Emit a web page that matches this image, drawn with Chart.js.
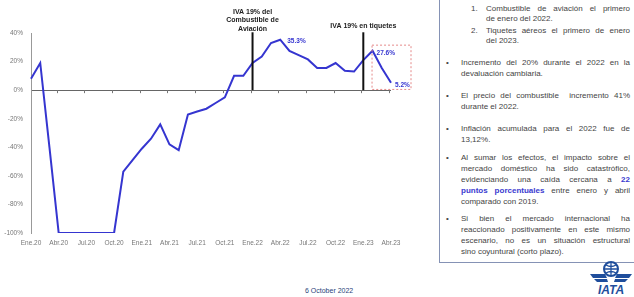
<!DOCTYPE html>
<html>
<head>
<meta charset="utf-8">
<script src="https://cdn.jsdelivr.net/npm/chart.js@4/dist/chart.umd.min.js"></script>
<style>
  body { margin: 0; width: 634px; height: 297px; overflow: hidden; background: #fff; font-family: "Liberation Sans", Arial, sans-serif; position: relative; }
  #chartWrap { position: absolute; left: 0; top: 0; width: 430px; height: 260px; }
  .box { position: absolute; left: 439px; top: -12px; width: 210px; height: 273px; border: 1px solid #8592b5; }
  .ln { position: absolute; font-size: 8px; line-height: 11px; height: 11px; color: #444; white-space: nowrap; overflow: visible; }
  .j { text-align: justify; text-align-last: justify; }
  .blue { color: #3a3ad0; font-weight: bold; }
  .foot { position: absolute; left: 305px; top: 287px; font-size: 7px; color: #2a3f7a; }
</style>
</head>
<body>
<div id="chartWrap"><canvas id="dataChart" width="430" height="260"></canvas></div>
<div class="box"></div>
<div id="notes"></div>
<div class="foot">6 October 2022</div>
<svg style="position:absolute;left:588px;top:261px" width="46" height="36" viewBox="0 0 46 36">
  <circle cx="23" cy="8" r="7" fill="#fff" stroke="#1f4e9c" stroke-width="2"/>
  <path d="M16 8 H30 M23 1 V15 M18 4 Q23 7 28 4 M18 12 Q23 9 28 12" stroke="#1f4e9c" stroke-width="1.3" fill="none"/>
  <polygon points="2,13 17,13 19,17 5,17" fill="#1f4e9c"/>
  <polygon points="6,18 19,18 20,21 9,21" fill="#1f4e9c"/>
  <polygon points="44,13 29,13 27,17 41,17" fill="#1f4e9c"/>
  <polygon points="40,18 27,18 26,21 37,21" fill="#1f4e9c"/>
  <text x="23" y="33" text-anchor="middle" font-family="Liberation Sans, Arial" font-weight="bold" font-style="italic" font-size="12" fill="#1f4e9c">IATA</text>
</svg>
<script>
// monthly categories Ene.20 .. Abr.23
const months = ['Ene.20','Feb.20','Mar.20','Abr.20','May.20','Jun.20','Jul.20','Ago.20','Sep.20','Oct.20','Nov.20','Dic.20',
  'Ene.21','Feb.21','Mar.21','Abr.21','May.21','Jun.21','Jul.21','Ago.21','Sep.21','Oct.21','Nov.21','Dic.21',
  'Ene.22','Feb.22','Mar.22','Abr.22','May.22','Jun.22','Jul.22','Ago.22','Sep.22','Oct.22','Nov.22','Dic.22',
  'Ene.23','Feb.23','Mar.23','Abr.23'];

// variation vs 2019 (%)
const variation = [8, 19, -40, -100, -100, -100, -100, -100, -100, -100, -57, -49,
  -41, -34, -24, -38, -42, -17, -15, -13, -9, -5, 10, 10,
  19, 23.5, 33, 35.3, 27.5, 24.5, 21.5, 15.5, 15.5, 19, 13.5, 13,
  21, 27.6, 15.5, 5.2];

const tickLabels = ['Ene.20','Abr.20','Jul.20','Oct.20','Ene.21','Abr.21','Jul.21','Oct.21','Ene.22','Abr.22','Jul.22','Oct.22','Ene.23','Abr.23'];
const yTicks = [40, 20, 0, -20, -40, -60, -80, -100];

// vertical markers
const markerIdx = [24, 36];
const markerText = [['IVA 19% del', 'Combustible de', 'Aviación'], ['IVA 19% en tiquetes']];
// highlighted values
const labelIdx = [27, 37, 39];
const labelText = ['35.3%', '27.6%', '5.2%'];

const blue = '#3535d0';

const annotations = {
  id: 'annotations',
  afterDatasetsDraw(chart) {
    const ctx = chart.ctx;
    const x = chart.scales.x, y = chart.scales.y;
    const y0 = y.getPixelForValue(0);
    ctx.save();

    // small ticks on the zero line
    ctx.strokeStyle = '#777';
    ctx.lineWidth = 1;
    for (let i = 3; i < months.length; i += 3) {
      const px = Math.round(x.getPixelForValue(i) - 2) + 0.5;
      ctx.beginPath();
      ctx.moveTo(px, y0);
      ctx.lineTo(px, y0 + 3);
      ctx.stroke();
    }

    // vertical markers
    ctx.strokeStyle = '#111';
    ctx.lineWidth = 2;
    markerIdx.forEach(idx => {
      const px = x.getPixelForValue(idx);
      ctx.beginPath();
      ctx.moveTo(px, y.getPixelForValue(40.5));
      ctx.lineTo(px, y0);
      ctx.stroke();
    });
    ctx.fillStyle = '#222';
    ctx.font = 'bold 7px "Liberation Sans", Arial, sans-serif';
    ctx.textAlign = 'center';
    ctx.textBaseline = 'middle';
    const px0 = x.getPixelForValue(markerIdx[0]);
    markerText[0].forEach((t, j) => ctx.fillText(t, px0, 12 + j * 8.5));
    ctx.fillText(markerText[1][0], x.getPixelForValue(markerIdx[1]), 26);

    // dashed highlight box
    ctx.strokeStyle = '#e58a8a';
    ctx.lineWidth = 1;
    ctx.setLineDash([2, 2]);
    const bx1 = x.getPixelForValue(37) - 0.5;
    const bx2 = x.getPixelForValue(39) + 20;
    const by1 = y.getPixelForValue(31.5);
    const by2 = y.getPixelForValue(0.5);
    ctx.strokeRect(bx1, by1, bx2 - bx1, by2 - by1);
    ctx.setLineDash([]);

    // value labels
    ctx.fillStyle = blue;
    ctx.font = 'bold 6.5px "Liberation Sans", Arial, sans-serif';
    ctx.textAlign = 'left';
    labelIdx.forEach((idx, k) => {
      const lx = x.getPixelForValue(idx) + (k === 0 ? 7 : 4);
      const ly = y.getPixelForValue(variation[idx]) + (k === 0 ? 1 : 2);
      ctx.fillText(labelText[k], lx, ly);
    });
    ctx.restore();
  }
};

const ctx = document.getElementById('dataChart').getContext('2d');
const chart = new Chart(ctx, {
  type: 'line',
  data: {
    labels: months,
    datasets: [{
      data: variation,
      borderColor: blue,
      borderWidth: 2,
      pointRadius: 0,
      tension: 0,
      fill: false
    }]
  },
  options: {
    responsive: false,
    animation: false,
    devicePixelRatio: 1,
    layout: { padding: { top: 33, right: 39, bottom: 7, left: 0 } },
    plugins: { legend: { display: false }, tooltip: { enabled: false } },
    scales: {
      x: {
        type: 'category',
        offset: false,
        grid: { display: false, drawTicks: false },
        border: { display: false },
        ticks: {
          autoSkip: false,
          maxRotation: 0,
          padding: 6,
          color: '#777',
          font: { size: 6.5, family: '"Liberation Sans", Arial, sans-serif' },
          callback: (v, i) => (i % 3 === 0 ? tickLabels[i / 3] : '')
        },
        afterFit: scale => { scale.height = 20; }
      },
      y: {
        min: -100,
        max: 40,
        afterBuildTicks: scale => { scale.ticks = yTicks.map(v => ({ value: v })); },
        grid: {
          drawTicks: false,
          color: c => (c.tick && c.tick.value === 0 ? '#666' : 'rgba(0,0,0,0)'),
          lineWidth: 1
        },
        border: { display: true, color: '#999', width: 1 },
        ticks: {
          padding: 8,
          color: '#777',
          font: { size: 6.5, family: '"Liberation Sans", Arial, sans-serif' },
          callback: v => v + '%'
        },
        afterFit: scale => { scale.width = 31; }
      }
    }
  },
  plugins: [annotations]
});

// side notes
const noteLines = [
  // [top, left, width, justify, html]
  [2.5, 486, 144, true, 'Combustible de aviación el primero'],
  [12.5, 486, 144, false, 'de enero del 2022.'],
  [24.5, 486, 144, true, 'Tiquetes aéreos el primero de enero'],
  [34.5, 486, 144, false, 'del 2023.'],
  [56.5, 461, 169, true, 'Incremento del 20% durante el 2022 en la'],
  [67.5, 461, 169, false, 'devaluación cambiaria.'],
  [89.5, 461, 169, true, 'El precio del combustible&nbsp; incremento 41%'],
  [100.5, 461, 169, false, 'durante el 2022.'],
  [122.5, 461, 169, true, 'Inflación acumulada para el 2022 fue de'],
  [133.5, 461, 169, false, '13,12%.'],
  [151.5, 461, 169, true, 'Al sumar los efectos, el impacto sobre el'],
  [162.5, 461, 169, true, 'mercado doméstico ha sido catastrófico,'],
  [174, 461, 169, true, 'evidenciando una caída cercana a <span class="blue">22</span>'],
  [185, 461, 169, true, '<span class="blue">puntos porcentuales</span> entre enero y abril'],
  [196, 461, 169, false, 'comparado con 2019.'],
  [212.5, 461, 169, true, 'Si bien el mercado internacional ha'],
  [224, 461, 169, true, 'reaccionado positivamente en este mismo'],
  [235, 461, 169, true, 'escenario, no es un situación estructural'],
  [246, 461, 169, false, 'sino coyuntural (corto plazo).']
];
const marks = [[2.5, 471, '1.'], [24.5, 471, '2.'], [56.5, 446, '•'], [89.5, 446, '•'], [122.5, 446, '•'], [151.5, 446, '•'], [212.5, 446, '•']];

const notes = document.getElementById('notes');
noteLines.forEach(([top, left, width, just, html]) => {
  const d = document.createElement('div');
  d.className = 'ln' + (just ? ' j' : '');
  d.style.top = top + 'px';
  d.style.left = left + 'px';
  d.style.width = width + 'px';
  d.style.whiteSpace = just ? 'normal' : 'nowrap';
  d.innerHTML = html;
  notes.appendChild(d);
});
marks.forEach(([top, left, t]) => {
  const d = document.createElement('div');
  d.className = 'ln';
  d.style.top = top + 'px';
  d.style.left = left + 'px';
  d.textContent = t;
  notes.appendChild(d);
});
</script>
</body>
</html>
